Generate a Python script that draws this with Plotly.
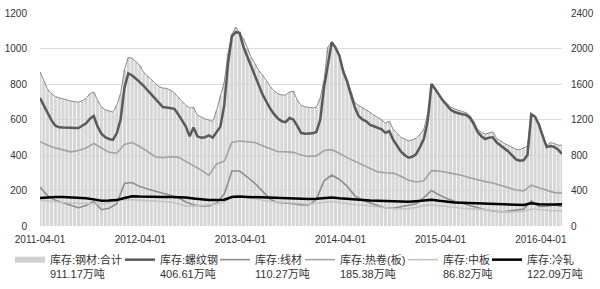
import pandas as pd
import plotly.graph_objects as go

# ---- data (万吨) ----
# biweekly dates for total & rebar
dates2w = pd.date_range("2011-04-01", periods=137, freq="14D")
# four-weekly dates for the smoother series
dates4w = pd.date_range("2011-04-01", periods=69, freq="28D")

total_steel = [2 * v for v in [
    868, 815, 770, 745, 730, 722, 715, 710, 705, 700, 698, 705, 718, 745, 755, 708, 670, 655, 648, 642,
    680, 745, 880, 950, 945, 925, 905, 865, 845, 820, 800, 785, 777, 775, 765, 750, 725, 700, 680, 665,
    668, 625, 612, 603, 598, 588, 650, 735, 810, 975, 1080, 1120, 1090, 1055, 1005, 950, 915, 875, 850, 815,
    785, 760, 745, 738, 738, 755, 760, 710, 680, 672, 668, 665, 670, 720, 820, 1008, 1037, 1005, 965, 880,
    825, 760, 695, 680, 668, 655, 640, 625, 612, 598, 580, 590, 545, 520, 500, 490, 480, 485, 495, 515,
    545, 630, 790, 770, 735, 712, 690, 670, 660, 652, 645, 638, 622, 590, 545, 528, 518, 525, 530, 493,
    478, 465, 455, 445, 432, 430, 442, 450, 630, 615, 575, 515, 455, 470, 465, 455, 455.585]]

rebar = [
    721, 680, 636, 595, 565, 556, 555, 556, 554, 552, 552, 565, 578, 605, 620, 560, 520, 500, 490, 485,
    522, 600, 780, 860, 848, 830, 812, 790, 765, 740, 715, 690, 670, 668, 666, 660, 630, 595, 560, 505,
    555, 505, 498, 500, 510, 498, 530, 560, 680, 918, 1070, 1092, 1088, 1010, 955, 900, 850, 800, 740, 700,
    660, 630, 605, 590, 585, 608, 600, 565, 525, 520, 520, 522, 530, 597, 780, 900, 1035, 1005, 960, 870,
    815, 740, 670, 620, 600, 590, 570, 562, 554, 545, 525, 535, 487, 455, 420, 400, 385, 390, 405, 445,
    490, 590, 800, 770, 735, 705, 680, 655, 642, 634, 630, 626, 610, 575, 530, 505, 490, 498, 500, 470,
    455, 440, 420, 398, 375, 368, 370, 400, 630, 615, 570, 505, 445, 450, 445, 430, 406.61]

wire_rod = [
    220, 170, 145, 130, 115, 103, 115, 140, 92, 100, 125, 240, 245, 222, 208, 195, 182, 172, 160, 135,
    120, 113, 113, 130, 180, 310, 310, 276, 240, 195, 150, 133, 130, 125, 118, 118, 150, 255, 287, 262,
    225, 170, 145, 128, 115, 103, 100, 108, 116, 125, 160, 200, 175, 155, 140, 128, 112, 100, 92, 85,
    80, 84, 88, 95, 142, 110, 112, 118, 110.27]

hot_rolled = [
    475, 455, 440, 430, 418, 425, 440, 465, 438, 415, 410, 460, 470, 448, 420, 390, 385, 390, 388, 365,
    340, 315, 285, 350, 365, 470, 479, 475, 470, 452, 435, 418, 418, 415, 400, 392, 395, 425, 430, 410,
    385, 365, 345, 325, 305, 300, 298, 280, 258, 248, 255, 312, 310, 302, 295, 285, 272, 260, 250, 242,
    230, 215, 203, 198, 230, 215, 200, 188, 185.38]

plate = [
    146, 140, 135, 132, 130, 128, 126, 125, 124, 132, 145, 150, 148, 146, 142, 140, 137, 135, 125, 113,
    112, 116, 120, 124, 135, 170, 172, 162, 152, 145, 138, 135, 132, 128, 124, 124, 128, 135, 138, 132,
    125, 120, 118, 112, 106, 100, 97, 96, 98, 105, 115, 120, 115, 108, 103, 100, 98, 96, 92, 86,
    80, 78, 80, 84, 96, 92, 88, 86, 86.82]

cold_rolled = [
    158, 162, 163, 163, 162, 160, 156, 150, 142, 143, 146, 158, 168, 166, 164, 163, 163, 163, 162, 160,
    155, 150, 146, 146, 148, 163, 166, 164, 162, 160, 158, 157, 156, 155, 152, 152, 153, 158, 160, 156,
    152, 148, 146, 144, 142, 140, 138, 135, 136, 140, 145, 148, 142, 136, 133, 131, 130, 128, 126, 125,
    124, 122, 120, 118, 128, 122, 120, 121, 122.09]

tick_dates = ["2011-04-01", "2012-04-01", "2013-04-01", "2014-04-01", "2015-04-01", "2016-04-01"]

names = {
    "total": "库存:钢材:合计<br>911.17万吨",
    "rebar": "库存:螺纹钢<br>406.61万吨",
    "wire": "库存:线材<br>110.27万吨",
    "hot": "库存:热卷(板)<br>185.38万吨",
    "plate": "库存:中板<br>86.82万吨",
    "cold": "库存:冷轧<br>122.09万吨",
}

fig = go.Figure()

# total on primary axis (right side, 0-2400), drawn underneath
fig.add_trace(go.Bar(x=dates2w, y=total_steel, marker=dict(color="#d6d6d6", line=dict(width=0)),
                     showlegend=False, yaxis="y"))
fig.add_trace(go.Scatter(x=dates2w, y=total_steel, mode="lines", line=dict(color="#8a8a8a", width=1),
                         showlegend=False, hoverinfo="skip", yaxis="y"))
# legend entry for total (grey band)
fig.add_trace(go.Scatter(x=[None], y=[None], mode="lines", line=dict(color="#d0d0d0", width=6),
                         name=names["total"], yaxis="y2", legend="legend"))

fig.add_trace(go.Scatter(x=dates2w, y=rebar, mode="lines", line=dict(color="#5a5a5a", width=2.5),
                         name=names["rebar"], yaxis="y2", legend="legend2"))
fig.add_trace(go.Scatter(x=dates4w, y=wire_rod, mode="lines", line=dict(color="#8e8e8e", width=1.6),
                         name=names["wire"], yaxis="y2", legend="legend3"))
fig.add_trace(go.Scatter(x=dates4w, y=hot_rolled, mode="lines", line=dict(color="#a3a3a3", width=1.6),
                         name=names["hot"], yaxis="y2", legend="legend4"))
fig.add_trace(go.Scatter(x=dates4w, y=plate, mode="lines", line=dict(color="#c4c4c4", width=1.6),
                         name=names["plate"], yaxis="y2", legend="legend5"))
fig.add_trace(go.Scatter(x=dates4w, y=cold_rolled, mode="lines", line=dict(color="#000000", width=2.5),
                         name=names["cold"], yaxis="y2", legend="legend6"))

font_fam = "Liberation Sans, Arial, Noto Sans CJK SC, sans-serif"


def legend_at(px):
    return dict(
        orientation="h",
        xref="container", yref="container",
        x=px / 600, xanchor="left",
        y=1 - 246 / 289, yanchor="top",
        valign="top",
        font=dict(size=11, family=font_fam, color="#333333"),
        bgcolor="rgba(0,0,0,0)",
        itemwidth=30,
    )


fig.update_layout(
    width=600, height=289,
    margin=dict(l=40, r=38, t=13, b=63, autoexpand=False),
    paper_bgcolor="white", plot_bgcolor="white",
    bargap=0.2,
    font=dict(family=font_fam, size=10, color="#333333"),
    xaxis=dict(
        type="date",
        range=["2011-04-01", "2016-06-17"],
        tickvals=tick_dates, ticktext=tick_dates,
        showgrid=False, showline=False, zeroline=False, ticks="",
        ticklabelstandoff=6,
        tickfont=dict(size=10, color="#333333"),
    ),
    yaxis=dict(
        side="right", range=[0, 2400], dtick=400,
        showgrid=True, gridcolor="#dcdcdc", gridwidth=1,
        zeroline=False, showline=False, ticks="",
        ticklabelstandoff=8,
        tickfont=dict(size=10, color="#333333"),
    ),
    yaxis2=dict(
        side="left", overlaying="y", range=[0, 1200], dtick=200,
        showgrid=False, zeroline=False, showline=False, ticks="",
        ticklabelstandoff=12,
        tickfont=dict(size=10, color="#333333"),
    ),
    legend=legend_at(10),
    legend2=legend_at(120),
    legend3=legend_at(215),
    legend4=legend_at(300),
    legend5=legend_at(403),
    legend6=legend_at(487),
)

fig.write_html("out.html")
